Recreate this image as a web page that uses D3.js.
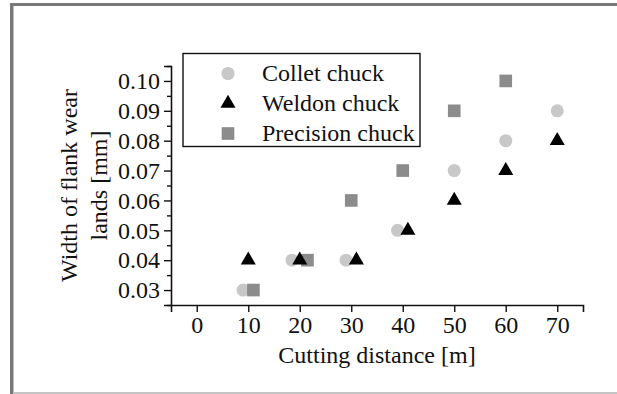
<!DOCTYPE html>
<html>

<head>
  <meta charset="utf-8">
  <title>Flank wear vs cutting distance</title>
  <script src="https://cdn.jsdelivr.net/npm/d3@7/dist/d3.min.js"></script>
</head>
<style>
  html,
  body {
    margin: 0;
    padding: 0;
    overflow: hidden;
    background: #fff
  }

  svg {
    display: block;
    font-family: "Liberation Serif", "Times New Roman", serif;
  }

  text {
    fill: #111;
  }
</style>

<body>
  <div id="chart"></div>
</body>
<script>
  // data
  const colletX = [9, 18.5, 29, 39, 50, 60, 70]
  const colletY = [0.03, 0.04, 0.04, 0.05, 0.07, 0.08, 0.09]
  const weldonX = [10, 20, 31, 41, 50, 60, 70]
  const weldonY = [0.04, 0.04, 0.04, 0.05, 0.06, 0.07, 0.08]
  const precisionX = [11, 21.5, 30, 40, 50, 60]
  const precisionY = [0.03, 0.04, 0.06, 0.07, 0.09, 0.10]

  const seriesNames = ['Collet chuck', 'Weldon chuck', 'Precision chuck']
  const xTicks = [0, 10, 20, 30, 40, 50, 60, 70]
  const yTicks = [0.03, 0.04, 0.05, 0.06, 0.07, 0.08, 0.09, 0.10]
  const yMinorTicks = [0.025, 0.035, 0.045, 0.055, 0.065, 0.075, 0.085, 0.095, 0.105]
  const xTitle = 'Cutting distance [m]'
  const yTitle = ['Width of flank wear', 'lands [mm]']

  const W = 617, H = 394
  const FONT = '24px'
  const svg = d3.select('#chart')
    .append('svg')
    .attr('width', W)
    .attr('height', H)

  // page frame
  svg.append('rect').attr('x', 10).attr('y', 3).attr('width', W - 10).attr('height', 3).attr('fill', '#787878')
  svg.append('rect').attr('x', 10).attr('y', 3).attr('width', 3.5).attr('height', H - 3).attr('fill', '#787878')
  svg.append('rect').attr('x', 13).attr('y', 392).attr('width', W - 13).attr('height', 2).attr('fill', '#c4c4c4')

  const x = d3.scaleLinear().domain([-5, 75]).range([171, 583])
  const y = d3.scaleLinear().domain([0.025, 0.105]).range([305, 66])

  svg.append('g')
    .attr('transform', 'translate(0,305)')
    .call(d3.axisBottom(x).tickValues(xTicks).tickSize(7).tickPadding(4).tickFormat(d3.format('d')))
  svg.append('g')
    .attr('transform', 'translate(171,0)')
    .call(d3.axisLeft(y).tickValues(yTicks).tickSize(7).tickPadding(4).tickFormat(d3.format('.2f')))
  svg.append('g')
    .attr('transform', 'translate(171,0)')
    .call(d3.axisLeft(y).tickValues(yMinorTicks).tickSize(4).tickFormat(''))
    .call(g => g.select('.domain').remove())

  svg.selectAll('.domain').attr('stroke', '#111').attr('stroke-width', 1.6)
  svg.selectAll('.tick line').attr('stroke', '#111').attr('stroke-width', 1.4)
  svg.selectAll('.tick text')
    .attr('fill', '#111')
    .style('font-size', FONT)
    .style('font-family', '"Liberation Serif", "Times New Roman", serif')

  // axis titles
  svg.append('text')
    .attr('x', x(35))
    .attr('y', 363)
    .attr('text-anchor', 'middle')
    .style('font-size', FONT)
    .text(xTitle)

  svg.selectAll('.ytitle')
    .data(yTitle)
    .enter().append('text')
    .attr('class', 'ytitle')
    .attr('transform', (d, i) => 'translate(' + (77 + i * 30) + ',' + y(0.065) + ') rotate(-90)')
    .attr('text-anchor', 'middle')
    .style('font-size', FONT)
    .text(d => d)

  // markers
  const styles = [
    { shape: d3.symbolCircle, size: 135, fill: '#c8c8c8' },
    { shape: d3.symbolTriangle, size: 98, fill: '#000' },
    { shape: d3.symbolSquare, size: 160, fill: '#8c8c8c' }
  ]
  const series = [
    colletX.map((v, i) => [v, colletY[i]]),
    weldonX.map((v, i) => [v, weldonY[i]]),
    precisionX.map((v, i) => [v, precisionY[i]])
  ]

  const drawOrder = [0, 2, 1]
  drawOrder.forEach(k => {
    svg.append('g')
      .selectAll('path')
      .data(series[k])
      .enter().append('path')
      .attr('transform', d => 'translate(' + x(d[0]) + ',' + y(d[1]) + ')')
      .attr('d', d3.symbol().type(styles[k].shape).size(styles[k].size))
      .attr('fill', styles[k].fill)
  })

  // legend
  const legend = svg.append('g')
  legend.append('rect')
    .attr('x', 183).attr('y', 53.5)
    .attr('width', 237).attr('height', 93)
    .attr('fill', 'none').attr('stroke', '#111').attr('stroke-width', 1.4)

  const rows = legend.selectAll('.row')
    .data(seriesNames)
    .enter().append('g')
    .attr('class', 'row')
    .attr('transform', (d, i) => 'translate(228,' + (73.5 + i * 30) + ')')
  rows.append('path')
    .attr('d', (d, i) => d3.symbol().type(styles[i].shape).size(styles[i].size)())
    .attr('fill', (d, i) => styles[i].fill)
  rows.append('text')
    .attr('x', 34)
    .attr('y', 7.5)
    .style('font-size', FONT)
    .text(d => d)
</script>

</html>
